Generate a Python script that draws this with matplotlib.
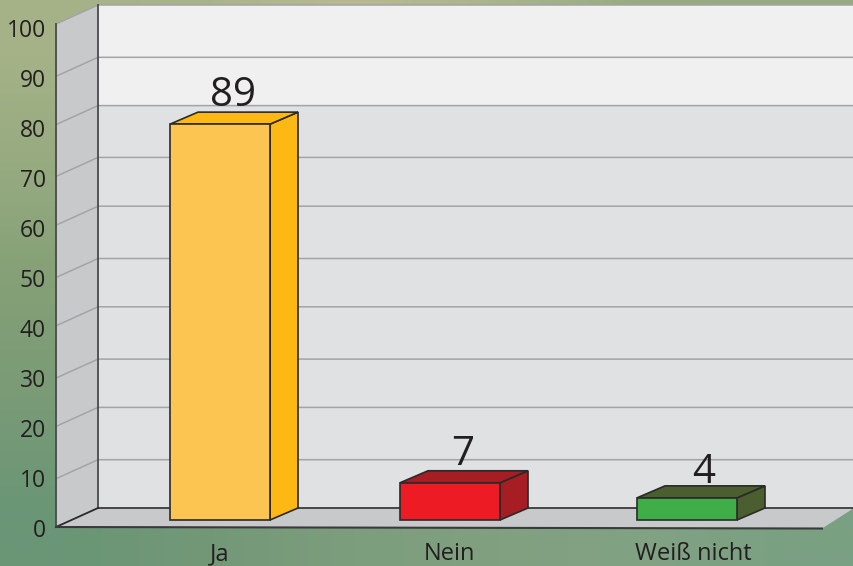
import numpy as np
import matplotlib
matplotlib.use("Agg")
import matplotlib.pyplot as plt
from matplotlib.patches import Polygon

plt.rcParams['font.family'] = ['Open Sans', 'DejaVu Sans']

# data
categories = ["Ja", "Nein", "Weiß nicht"]
value_labels = ["89", "7", "4"]
drawn_heights = [78.7, 7.4, 4.4]      # heights as drawn against the axis
bar_centers = [220, 450, 687]
label_centers = [220, 449, 693]
front_colors = ["#fcc450", "#ed1c24", "#3fae49"]
dark_colors = ["#fdb813", "#a71d24", "#4b5e2f"]
y_ticks = [0, 10, 20, 30, 40, 50, 60, 70, 80, 90, 100]
grid_levels = [0, 9.6, 20, 29.6, 40, 49.6, 60, 69.7, 80, 89.6, 100]  # as drawn

# style / layout
W, H = 854, 566
PX = 5.03                 # pixels per value unit
Y0 = 527                  # pixel row of value 0 on the front edge
wall_x, wall_dx, wall_dv = 56, 42, 19 / PX
bar_w, bar_dx, bar_dv, bar_base = 100, 28, 12 / PX, 7 / PX
ink = "#231f20"
grid = "#a3a4a6"
bg_grid = np.array([
    [[165, 178, 135], [170, 180, 138], [185, 185, 145], [170, 180, 140], [150, 172, 130], [150, 170, 130]],
    [[150, 170, 128], [150, 170, 130], [150, 170, 130], [145, 168, 128], [140, 165, 125], [135, 162, 125]],
    [[132, 160, 118], [135, 160, 120], [135, 160, 122], [135, 160, 125], [130, 158, 125], [128, 158, 125]],
    [[122, 155, 118], [125, 155, 120], [128, 158, 125], [130, 160, 128], [130, 160, 130], [125, 158, 128]],
    [[106, 150, 118], [115, 152, 120], [125, 158, 125], [128, 160, 128], [130, 162, 132], [122, 160, 130]],
], dtype=float) / 255

fig = plt.figure(figsize=(W / 100, H / 100), dpi=100)
ax = fig.add_axes([0, 0, 1, 1])
ylim = ((Y0 - H) / PX, Y0 / PX)
ax.imshow(bg_grid, extent=(0, W, ylim[0], ylim[1]), aspect="auto",
          interpolation="bilinear", zorder=0)
ax.set_xlim(0, W)
ax.set_ylim(*ylim)
ax.axis("off")

def poly(pts, fc, ec="none", lw=0.0, z=1):
    ax.add_patch(Polygon(pts, closed=True, facecolor=fc, edgecolor=ec,
                         linewidth=lw, joinstyle="miter", zorder=z))

xb = wall_x + wall_dx
top, bottom = y_ticks[-1], y_ticks[0]

# back wall (two tones)
split = 80
poly([(xb, wall_dv), (W, wall_dv), (W, split + wall_dv), (xb, split + wall_dv)], "#e0e1e3")
poly([(xb, split + wall_dv), (W, split + wall_dv), (W, top + wall_dv), (xb, top + wall_dv)], "#f0f0f1")
# left wall
poly([(wall_x, bottom), (xb, wall_dv), (xb, top + wall_dv), (wall_x, top)], "#c8c9cb")
# floor
x_end = 822
poly([(wall_x, bottom), (xb, wall_dv), (W, wall_dv), (x_end, bottom - 0.3)], "#c8c9cb")

# gridlines
for t, g in zip(y_ticks, grid_levels):
    if t > 0:
        ax.plot([wall_x, xb, W], [g, g + wall_dv, g + wall_dv], color=grid, lw=1.1, zorder=2,
                solid_joinstyle="miter")
    ax.text(wall_x - 10, (t * 5 - 4) / PX, str(t), ha="right", va="center", fontsize=16.5,
            color=ink, zorder=5)

# wall outlines
ax.plot([wall_x, wall_x], [bottom, top], color="#4a4a4c", lw=1.3, zorder=3)
ax.plot([xb, xb], [wall_dv, top + wall_dv], color="#4a4a4c", lw=1.3, zorder=3)
ax.plot([xb, W], [wall_dv, wall_dv], color="#3a3a3c", lw=1.3, zorder=3)
ax.plot([wall_x, xb], [bottom, wall_dv], color="#2a2a2c", lw=1.3, zorder=3)
ax.plot([wall_x, x_end], [bottom, bottom - 0.3], color="#3a3a3c", lw=1.5, zorder=3)

# bars
for name, lab, h, c, lc, fc, dc in zip(categories, value_labels, drawn_heights, bar_centers,
                                       label_centers, front_colors, dark_colors):
    x0, x1 = c - bar_w / 2, c + bar_w / 2
    y0, y1 = bar_base, bar_base + h
    edge = dict(ec="#2b2a29", lw=1.2, z=4)
    poly([(x1, y0), (x1 + bar_dx, y0 + bar_dv), (x1 + bar_dx, y1 + bar_dv), (x1, y1)], dc, **edge)
    poly([(x0, y1), (x1, y1), (x1 + bar_dx, y1 + bar_dv), (x0 + bar_dx, y1 + bar_dv)], dc, **edge)
    poly([(x0, y1), (x1, y1), (x1, y0), (x0, y0)], fc, **edge)
    ax.text(c + bar_dx / 2 + (3 if c > 600 else -1), y1 + bar_dv + (0.6 if c > 600 else 1.2),
            lab, ha="center", va="baseline", fontsize=29, color=ink, zorder=6)
    ax.text(lc, -6.6, name, ha="center", va="baseline", fontsize=17, color=ink, zorder=5)

fig.savefig("out.png", dpi=100)
